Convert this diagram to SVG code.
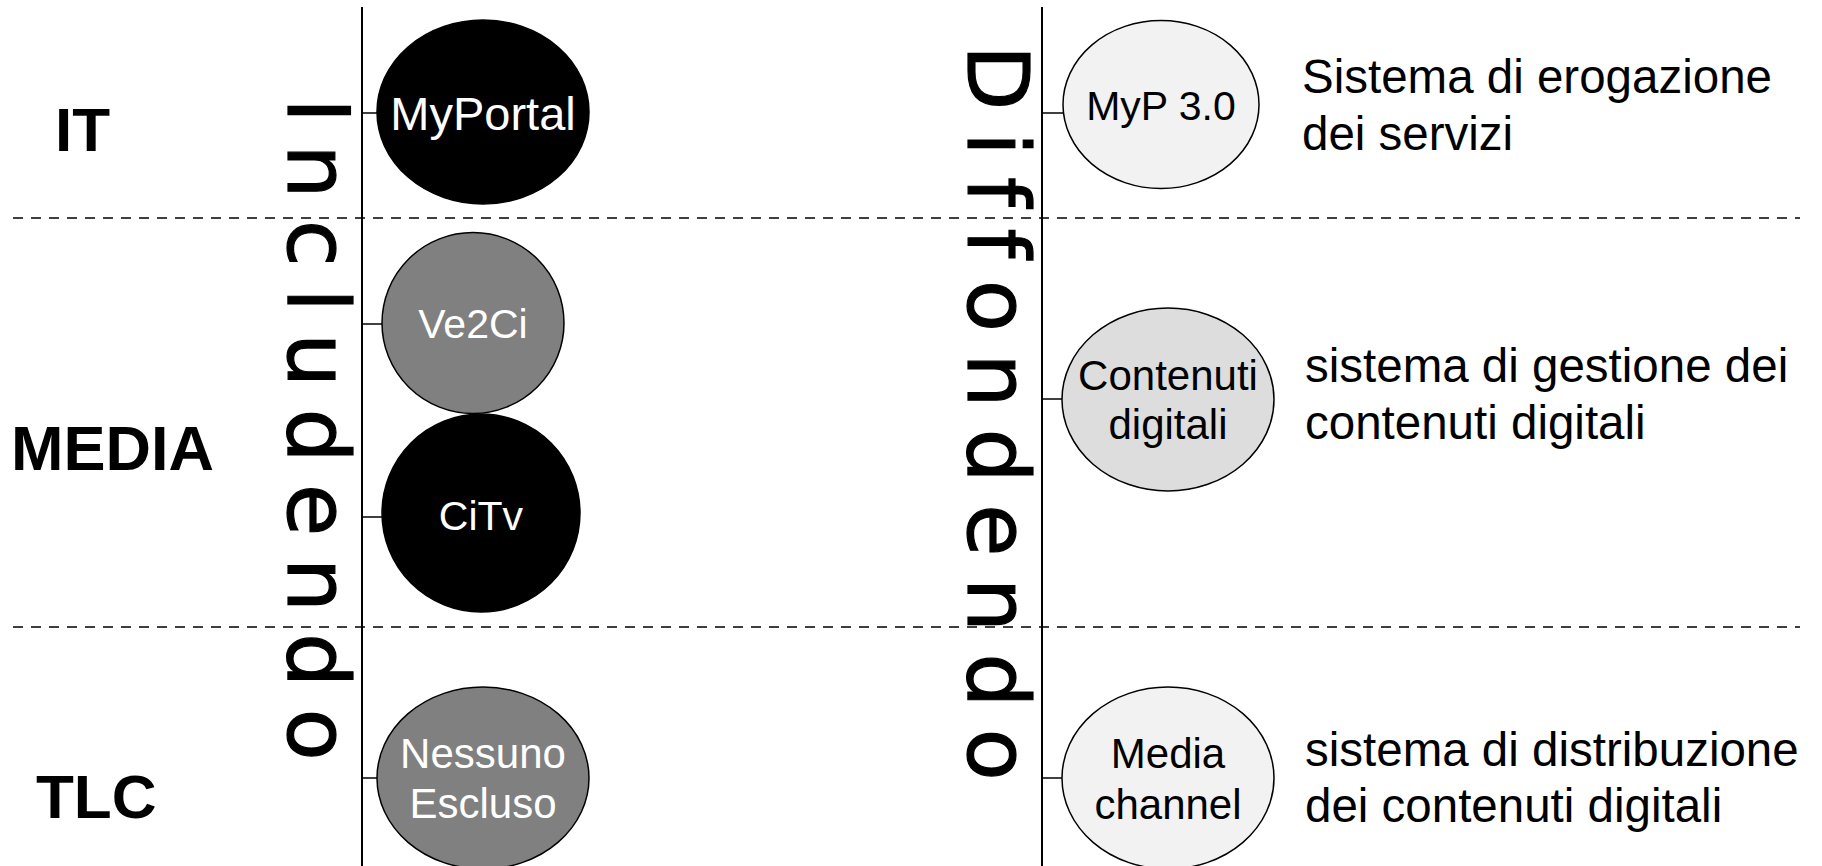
<svg xmlns="http://www.w3.org/2000/svg" width="1822" height="866" viewBox="0 0 1822 866">
<style>
.lbl{font-family:"Liberation Sans",Arial,sans-serif;font-weight:bold;fill:#000}
.vt{font-family:"DejaVu Sans",Verdana,sans-serif;font-size:85px;letter-spacing:21.5px;fill:#000;stroke:#000;stroke-width:1.2}
.nt{font-family:"Liberation Sans",Arial,sans-serif;text-anchor:middle}
.desc{font-family:"Liberation Sans",Arial,sans-serif;font-size:47.5px;fill:#000}
.node{stroke:#000;stroke-width:1.5}
.dash{stroke:#000;stroke-width:1.6;stroke-dasharray:10 8;fill:none}
.axis{stroke:#000;stroke-width:2;fill:none}
.tick{stroke:#000;stroke-width:1.5;fill:none}
</style>
<rect width="1822" height="866" fill="#fff"/>
<g id="grid">
<line class="dash" x1="13" y1="218" x2="1800" y2="218"/>
<line class="dash" x1="13" y1="627" x2="1800" y2="627"/>
<line class="axis" x1="362" y1="7" x2="362" y2="866"/>
<line class="axis" x1="1042" y1="7" x2="1042" y2="866"/>
</g>
<g id="row-labels">
<text class="lbl" x="55" y="151" font-size="62">IT</text>
<text class="lbl" x="11" y="470" font-size="63">MEDIA</text>
<text class="lbl" x="36" y="818" font-size="62">TLC</text>
</g>
<g id="includendo">
<text class="vt" transform="translate(288,98) rotate(90)">Includendo</text>
</g>
<g id="diffondendo">
<text class="vt" transform="translate(968,45) rotate(90)">Diffondendo</text>
</g>
<g id="connectors">
<line class="tick" x1="362" y1="113" x2="378" y2="113"/>
<line class="tick" x1="362" y1="324" x2="383" y2="324"/>
<line class="tick" x1="362" y1="517" x2="383" y2="517"/>
<line class="tick" x1="362" y1="778" x2="378" y2="778"/>
<line class="tick" x1="1042" y1="113" x2="1064" y2="113"/>
<line class="tick" x1="1042" y1="399" x2="1063" y2="399"/>
<line class="tick" x1="1042" y1="778" x2="1063" y2="778"/>
</g>
<g id="myportal">
<ellipse class="node" cx="483" cy="112" rx="106" ry="92" fill="#000"/>
<text class="nt" x="483" y="130" style="font-size:47px" fill="#fff">MyPortal</text>
</g>
<g id="ve2ci">
<ellipse class="node" cx="473" cy="323" rx="91" ry="90.5" fill="#808080"/>
<text class="nt" x="473" y="338" style="font-size:41px" fill="#fff">Ve2Ci</text>
</g>
<g id="citv">
<ellipse class="node" cx="481" cy="513" rx="99" ry="99" fill="#000"/>
<text class="nt" x="481" y="530" style="font-size:41px" fill="#fff">CiTv</text>
</g>
<g id="nessuno-escluso">
<ellipse class="node" cx="483" cy="778" rx="106" ry="91" fill="#808080"/>
<text class="nt" x="483" y="768" style="font-size:42px" fill="#fff">Nessuno</text>
<text class="nt" x="483" y="818" style="font-size:42px" fill="#fff">Escluso</text>
</g>
<g id="myp30">
<ellipse class="node" cx="1161" cy="104.5" rx="98" ry="84" fill="#f2f2f2"/>
<text class="nt" x="1161" y="120" style="font-size:41px" fill="#000">MyP 3.0</text>
</g>
<g id="contenuti-digitali">
<ellipse class="node" cx="1168" cy="399.5" rx="106" ry="91.5" fill="#dddddd"/>
<text class="nt" x="1168" y="390" style="font-size:42px" fill="#000">Contenuti</text>
<text class="nt" x="1168" y="439" style="font-size:42px" fill="#000">digitali</text>
</g>
<g id="media-channel">
<ellipse class="node" cx="1168" cy="778" rx="106" ry="91" fill="#f2f2f2"/>
<text class="nt" x="1168" y="768" style="font-size:42px" fill="#000">Media</text>
<text class="nt" x="1168" y="819" style="font-size:42px" fill="#000">channel</text>
</g>
<g id="descriptions">
<text class="desc" x="1302" y="93">Sistema di erogazione</text>
<text class="desc" x="1302" y="150">dei servizi</text>
<text class="desc" x="1305" y="382">sistema di gestione dei</text>
<text class="desc" x="1305" y="439">contenuti digitali</text>
<text class="desc" x="1305" y="766">sistema di distribuzione</text>
<text class="desc" x="1305" y="822">dei contenuti digitali</text>
</g>
</svg>
